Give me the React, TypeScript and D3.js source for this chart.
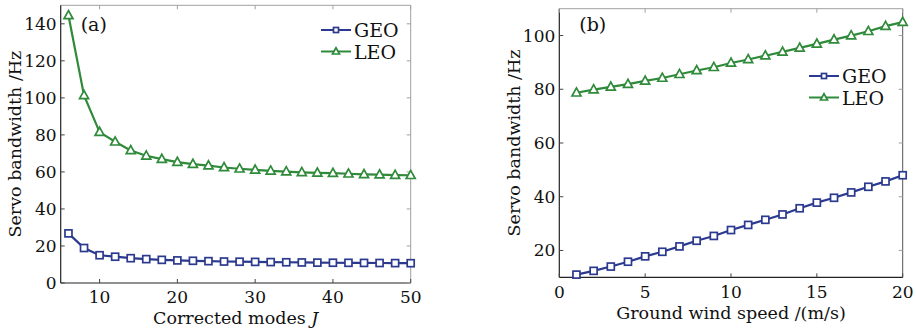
import React from "react";
import * as d3 from "d3";

const modesJ = [6, 8, 10, 12, 14, 16, 18, 20, 22, 24, 26, 28, 30, 32, 34, 36, 38, 40, 42, 44, 46, 48, 50];
const geoA = [26.8, 18.9, 15.0, 14.2, 13.4, 12.9, 12.5, 12.2, 12.0, 11.8, 11.6, 11.5, 11.4, 11.3, 11.2, 11.1, 11.0, 10.95, 10.9, 10.85, 10.8, 10.75, 10.7];
const leoA = [144.5, 101.3, 81.5, 76.3, 71.6, 68.7, 66.9, 65.3, 64.2, 63.4, 62.4, 61.7, 61.1, 60.6, 60.2, 59.8, 59.5, 59.3, 59.0, 58.7, 58.5, 58.3, 58.2];

const windSpeed = [1, 2, 3, 4, 5, 6, 7, 8, 9, 10, 11, 12, 13, 14, 15, 16, 17, 18, 19, 20];
const geoB = [11.0, 12.4, 14.0, 15.8, 17.8, 19.5, 21.5, 23.6, 25.4, 27.6, 29.5, 31.4, 33.4, 35.7, 37.8, 39.6, 41.6, 43.7, 45.7, 48.0];
const leoB = [78.7, 79.9, 80.9, 81.9, 83.1, 84.2, 85.6, 87.0, 88.2, 89.8, 91.1, 92.5, 93.9, 95.4, 96.9, 98.5, 100.0, 101.6, 103.5, 105.0];

const xTicksA = [10, 20, 30, 40, 50];
const yTicksA = [0, 20, 40, 60, 80, 100, 120, 140];
const xTicksB = [0, 5, 10, 15, 20];
const yTicksB = [20, 40, 60, 80, 100];

const BLUE = "#2b3a8e";
const GREEN = "#2f8a3a";
const FONT = "'DejaVu Serif', serif";

type PanelProps = {
  x0: number; x1: number; y0: number; y1: number;
  xDomain: [number, number]; yDomain: [number, number];
  xs: number[]; geo: number[]; leo: number[];
  xTicks: number[]; yTicks: number[];
  label: string;
  xTitle: React.ReactNode; yTitleX: number; xTickY: number; xTitleY: number;
  legendX: number; legendY: number;
  rightDark?: boolean;
};

function Square({ cx, cy, s, color }: { cx: number; cy: number; s: number; color: string }) {
  return <rect x={cx - s / 2} y={cy - s / 2} width={s} height={s} fill="white" stroke={color} strokeWidth={1.7} />;
}
function Tri({ cx, cy, s, color }: { cx: number; cy: number; s: number; color: string }) {
  const h = s * 0.9;
  const p = `${cx},${cy - h * 0.6} ${cx - s / 2},${cy + h * 0.4} ${cx + s / 2},${cy + h * 0.4}`;
  return <polygon points={p} fill="white" stroke={color} strokeWidth={1.7} strokeLinejoin="miter" />;
}

function Panel(p: PanelProps) {
  const x = d3.scaleLinear().domain(p.xDomain).range([p.x0, p.x1]);
  const y = d3.scaleLinear().domain(p.yDomain).range([p.y1, p.y0]);
  const line = d3.line<[number, number]>().x((d) => x(d[0])).y((d) => y(d[1]));
  const geoPts = p.xs.map((v, i) => [v, p.geo[i]] as [number, number]);
  const leoPts = p.xs.map((v, i) => [v, p.leo[i]] as [number, number]);
  const tl = 4;
  const gray = "#a0a0a0";
  return (
    <g>
      <line x1={p.x0} x2={p.x1} y1={p.y0} y2={p.y0} stroke={gray} strokeWidth={1} />
      <line x1={p.x1} x2={p.x1} y1={p.y0} y2={p.y1} stroke={p.rightDark ? "#555" : gray} strokeWidth={1} />
      <line x1={p.x0} x2={p.x1} y1={p.y1} y2={p.y1} stroke="#222" strokeWidth={1.2} />
      <line x1={p.x0} x2={p.x0} y1={p.y0} y2={p.y1} stroke="#222" strokeWidth={1.2} />
      {p.xTicks.map((t) => (
        <g key={"xt" + t}>
          <line x1={x(t)} x2={x(t)} y1={p.y1} y2={p.y1 - tl} stroke="#444" />
          <line x1={x(t)} x2={x(t)} y1={p.y0} y2={p.y0 + tl} stroke={gray} />
          <text x={x(t)} y={p.xTickY} textAnchor="middle" fontFamily={FONT} fontSize={17} fill="#111">{t}</text>
        </g>
      ))}
      {p.yTicks.map((t) => (
        <g key={"yt" + t}>
          <line x1={p.x0} x2={p.x0 + tl} y1={y(t)} y2={y(t)} stroke="#444" />
          <line x1={p.x1} x2={p.x1 - tl} y1={y(t)} y2={y(t)} stroke={gray} />
          <text x={p.x0 - 4} y={y(t) + 6} textAnchor="end" fontFamily={FONT} fontSize={17} fill="#111">{t}</text>
        </g>
      ))}
      <text x={(p.x0 + p.x1) / 2} y={p.xTitleY} textAnchor="middle" fontFamily={FONT} fontSize={17.5} fill="#111">{p.xTitle}</text>
      <text transform={`translate(${p.yTitleX},${(p.y0 + p.y1) / 2}) rotate(-90)`} textAnchor="middle" fontFamily={FONT} fontSize={17.5} fill="#111">Servo bandwidth /Hz</text>
      <text x={p.x0 + 20} y={31} fontFamily={FONT} fontSize={19} fill="#111">{p.label}</text>

      <path d={line(geoPts) || ""} fill="none" stroke={BLUE} strokeWidth={2.2} />
      <path d={line(leoPts) || ""} fill="none" stroke={GREEN} strokeWidth={2.2} />
      {geoPts.map((d, i) => <Square key={"g" + i} cx={x(d[0])} cy={y(d[1])} s={7} color={BLUE} />)}
      {leoPts.map((d, i) => <Tri key={"l" + i} cx={x(d[0])} cy={y(d[1])} s={9} color={GREEN} />)}

      <g>
        <line x1={p.legendX} x2={p.legendX + 30} y1={p.legendY} y2={p.legendY} stroke={BLUE} strokeWidth={2} />
        <Square cx={p.legendX + 15} cy={p.legendY} s={5} color={BLUE} />
        <text x={p.legendX + 33} y={p.legendY + 7} fontFamily={FONT} fontSize={19} fill="#111">GEO</text>
        <line x1={p.legendX} x2={p.legendX + 30} y1={p.legendY + 21.5} y2={p.legendY + 21.5} stroke={GREEN} strokeWidth={2} />
        <Tri cx={p.legendX + 15} cy={p.legendY + 21.5} s={7} color={GREEN} />
        <text x={p.legendX + 33} y={p.legendY + 28.5} fontFamily={FONT} fontSize={19} fill="#111">LEO</text>
      </g>
    </g>
  );
}

export default function App() {
  return (
    <svg width={916} height={329} style={{ position: "absolute", left: 0, top: 0, background: "white" }}>
      <rect width={916} height={329} fill="white" />
      <Panel
        x0={60.7} x1={410.7} y0={5.3} y1={283}
        xDomain={[5, 50]} yDomain={[0, 150]}
        xs={modesJ} geo={geoA} leo={leoA}
        xTicks={xTicksA} yTicks={yTicksA}
        label="(a)"
        xTitle={<>Corrected modes <tspan fontStyle="italic">J</tspan></>}
        yTitleX={21} xTickY={303} xTitleY={324}
        legendX={321} legendY={30}
      />
      <Panel
        x0={559.3} x1={902.7} y0={8.7} y1={277.3}
        xDomain={[0, 20]} yDomain={[10, 110]}
        xs={windSpeed} geo={geoB} leo={leoB}
        xTicks={xTicksB} yTicks={yTicksB}
        label="(b)"
        xTitle={<>Ground wind speed /(m/s)</>}
        yTitleX={520} xTickY={297.5} xTitleY={319}
        legendX={809} legendY={76}
        rightDark
      />
    </svg>
  );
}
